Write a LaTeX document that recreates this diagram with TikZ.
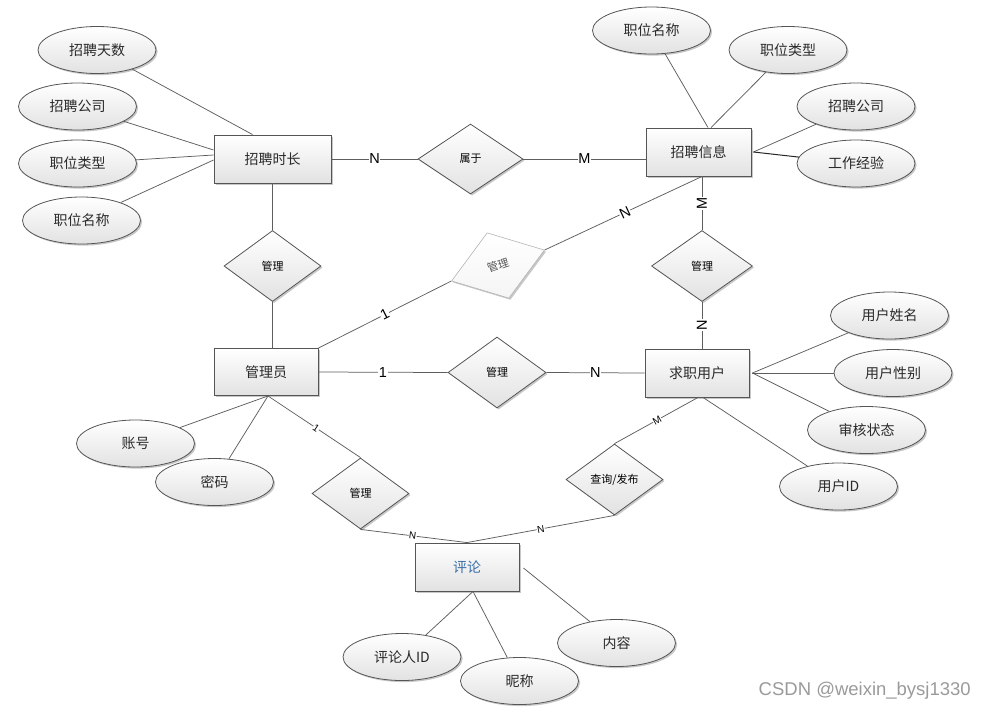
\documentclass[tikz,border=0pt]{standalone}
\usepackage{fontspec}
\setmainfont{Noto Sans CJK SC}
\newfontfamily\latinf{Liberation Sans}
\usetikzlibrary{shapes.geometric,shadows}
\definecolor{linec}{HTML}{5E5E5E}
\definecolor{bordc}{HTML}{555555}
\definecolor{shadec}{HTML}{E2E2E2}
\definecolor{txtc}{HTML}{2A2A2A}
\definecolor{bluec}{HTML}{3A6EA8}
\definecolor{lightbord}{HTML}{B4B4B4}
\definecolor{wmc}{HTML}{9A9A9A}
\begin{document}
\begin{tikzpicture}[x=1pt,y=-1pt,
  shad/.style={drop shadow={shadow xshift=1.6pt,shadow yshift=-1.6pt,opacity=0.22,fill=black}},
  ent/.style={rectangle,draw=bordc,line width=0.9pt,top color=white,bottom color=shadec,shad,
    font=\fontsize{14}{16}\selectfont,text=txtc,inner sep=0pt,minimum width=104pt,minimum height=48pt},
  attr/.style={ellipse,draw=bordc,line width=0.8pt,top color=white,bottom color=shadec,shad,
    font=\fontsize{14}{16}\selectfont,text=txtc,inner sep=0pt,minimum width=118pt,minimum height=47pt},
  rel/.style={diamond,draw=bordc,line width=0.8pt,top color=white,bottom color=shadec,shad,
    font=\fontsize{11}{13}\selectfont,text=black,inner sep=0pt,minimum width=97pt,minimum height=71pt},
  conn/.style={draw=linec,line width=0.75pt},
  card/.style={fill=white,inner sep=0.6pt,text=black,font=\latinf\fontsize{14.5}{15}\selectfont},
  cards/.style={fill=white,inner sep=0.4pt,text=black,font=\latinf\fontsize{10}{11}\selectfont},
]
\useasboundingbox (0,0) rectangle (987,710);

% entities
\node[ent,minimum width=117pt] (r1) at (272.5,159) {招聘时长};
\node[ent,minimum width=105pt] (r2) at (698.5,152) {招聘信息};
\node[ent,minimum height=47pt] (r3) at (266,372) {管理员};
\node[ent] (r4) at (697,373) {求职用户};
\node[ent,text=bluec] (r5) at (467,567) {评论};

% relationships
\node[rel,minimum width=105pt,minimum height=70pt] (d0) at (470.5,159) {属于};
\node[rel] (d1) at (272.5,266) {管理};
\node[rel,rotate=18.4,draw=lightbord,line width=0.6pt,bottom color=gray!8,text=bordc,
      minimum width=98pt,minimum height=69pt] (d2) at (498,265.5) {管理};
\node[rel,minimum width=101pt] (d3) at (702,266) {管理};
\node[rel,minimum width=98pt] (d4) at (497,372.5) {管理};
\node[rel] (d5) at (360.5,493.5) {管理};
\node[rel] (d6) at (614.5,479.5) {查询/发布};

% attributes of 招聘时长
\node[attr] (a1) at (97,50) {招聘天数};
\node[attr] (a2) at (77.5,106.5) {招聘公司};
\node[attr] (a3) at (77.5,163.5) {职位类型};
\node[attr] (a4) at (81.5,220.5) {职位名称};
% attributes of 招聘信息
\node[attr] (b1) at (651.5,30.5) {职位名称};
\node[attr] (b2) at (788,50) {职位类型};
\node[attr] (b3) at (856,106.5) {招聘公司};
\node[attr] (b4) at (856,163.5) {工作经验};
% attributes of 管理员
\node[attr] (c1) at (135.5,443.5) {账号};
\node[attr] (c2) at (214.5,482) {密码};
% attributes of 求职用户
\node[attr] (u1) at (889.5,315.5) {用户姓名};
\node[attr] (u2) at (893,373) {用户性别};
\node[attr] (u3) at (866.5,430) {审核状态};
\node[attr] (u4) at (838.5,486.5) {用户ID};
% attributes of 评论
\node[attr] (p1) at (402,657) {评论人ID};
\node[attr] (p2) at (519.5,681) {昵称};
\node[attr] (p3) at (616.5,643) {内容};

% attachment points
\coordinate (r1n) at ([xshift=-20pt]r1.north);
\coordinate (r1w1) at ([yshift=9pt]r1.west);
\coordinate (r1w2) at ([yshift=4pt]r1.west);
\coordinate (r1w3) at ([yshift=-1pt]r1.west);
\coordinate (r2n1) at ([xshift=9.5pt]r2.north);
\coordinate (r2n2) at ([xshift=12.5pt]r2.north);
\coordinate (r2e) at ([xshift=2pt]r2.east);
\coordinate (r2w) at ([yshift=-7pt]r2.west);
\coordinate (r2s) at ([xshift=3.5pt]r2.south);
\coordinate (r3n) at ([xshift=6.5pt]r3.north);
\coordinate (r3s) at ([xshift=2pt]r3.south);
\coordinate (r4n) at ([xshift=5pt]r4.north);
\coordinate (r4e) at ([xshift=3pt]r4.east);
\coordinate (r4s1) at ([xshift=1pt]r4.south);
\coordinate (r4s2) at ([xshift=6pt]r4.south);
\coordinate (r5s) at ([xshift=6pt]r5.south);
\coordinate (r5e) at ([xshift=4pt,yshift=-1pt]r5.east);

% attribute connectors
\draw[conn] (a1) -- (r1n);
\draw[conn] (a2) -- (r1w1);
\draw[conn] (a3) -- (r1w2);
\draw[conn] (a4) -- (r1w3);
\draw[conn] (b1) -- (r2n1);
\draw[conn] (b2) -- (r2n2);
\draw[conn] (b3) -- (r2e);
\draw[conn,draw=black!85,line width=1pt] (b4) -- (r2e);
\draw[conn] (c1) -- (r3s);
\draw[conn] (c2) -- (r3s);
\draw[conn] (u1) -- (r4e);
\draw[conn] (u2) -- (r4e);
\draw[conn] (u3) -- (r4e);
\draw[conn] (u4) -- (r4s2);
\draw[conn] (p1) -- (r5s);
\draw[conn] (p2) -- (r5s);
\draw[conn] (p3) -- (r5e);

% relationship connectors
\draw[conn] (r1.east) -- node[card,pos=0.5] {N} (d0.west);
\draw[conn] (d0.east) -- node[card,pos=0.5] {M} (r2w);
\draw[conn] (r1.south) -- (d1.north);
\draw[conn] (d1.south) -- (r3n);
\draw[conn] (r3.north east) -- node[card,pos=0.5,sloped] {1} (d2.west);
\draw[conn] (d2.east) -- node[card,pos=0.51,sloped] {N} (r2s);
\draw[conn] (r2s) -- node[card,pos=0.5,rotate=90] {M} (d3.north);
\draw[conn] (d3.south) -- node[card,pos=0.5,rotate=90] {N} (r4n);
\draw[conn] (r3.east) -- node[card,pos=0.5] {1} (d4.west);
\draw[conn] (d4.east) -- node[card,pos=0.5] {N} (r4.west);
\draw[conn] (r3s) -- node[cards,pos=0.52,sloped] {1} (d5.north);
\draw[conn] (d5.south) -- node[cards,pos=0.49,sloped] {N} (r5.north);
\draw[conn] (r4s1) -- node[cards,pos=0.49,sloped] {M} (d6.north);
\draw[conn] (d6.south) -- node[cards,pos=0.5,sloped] {N} (r5.north);

% watermark
\node[anchor=east,text=wmc,inner sep=0pt,font=\latinf\fontsize{18.5}{20}\selectfont] (wm) at (971,690.5) {CSDN @weixin\_bysj1330};
\end{tikzpicture}
\end{document}
